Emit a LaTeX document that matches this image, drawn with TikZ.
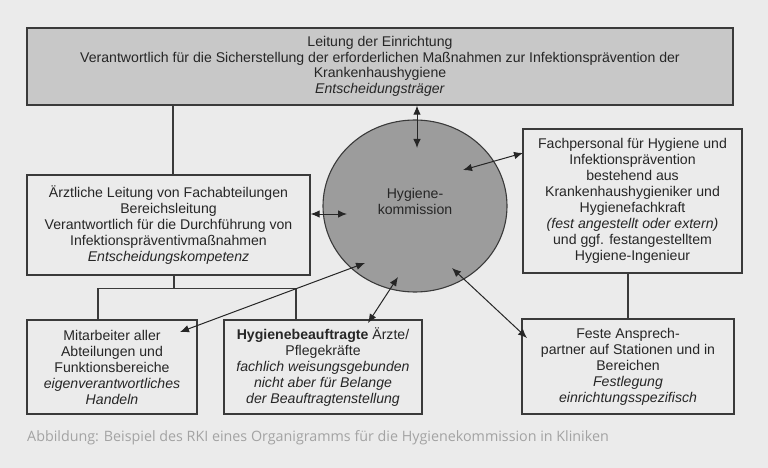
\documentclass[tikz,border=0pt]{standalone}
\usepackage{fontspec}
\setmainfont{Liberation Sans}
\newfontfamily\capfont{Open Sans}
\usetikzlibrary{shapes.geometric,arrows.meta,calc}
\definecolor{bgc}{HTML}{EBEBEB}
\definecolor{topc}{HTML}{C8C8C8}
\definecolor{circc}{HTML}{9C9C9C}
\definecolor{linec}{HTML}{3A3A3A}
\definecolor{capc}{HTML}{A3A3A3}
\begin{document}
\begin{tikzpicture}[x=1pt,y=-1pt,
  box/.style={draw=linec,line width=1.3pt,fill=bgc,align=center,inner sep=0pt,
    font=\fontsize{14.1}{16}\selectfont,text=black!85},
  topbox/.style={box,fill=topc,font=\fontsize{14.1}{15.6}\selectfont},
  conn/.style={draw=linec,line width=1.1pt},
  arr/.style={draw=black!85,line width=1pt,{Latex[length=9pt,width=7.5pt]}-{Latex[length=9pt,width=7.5pt]}}
]
\useasboundingbox[fill=bgc] (0,0) rectangle (768,468);

\node[topbox,minimum width=706pt,minimum height=77pt] (top) at (380,66.5)
  {Leitung der Einrichtung\\
   Verantwortlich für die Sicherstellung der erforderlichen Maßnahmen zur Infektionsprävention der\\
   Krankenhaushygiene\\
   \textit{Entscheidungsträger}};

\node[ellipse,draw=linec,line width=1.1pt,fill=circc,minimum width=184pt,minimum height=172pt] (hk) at (415,206) {};
\node[align=center,font=\fontsize{14.1}{16}\selectfont,text=black!85] (hkt) at (415,201) {Hygiene-\\kommission};

\node[box,minimum width=283pt,minimum height=100pt] (lead) at (168.5,225)
  {Ärztliche Leitung von Fachabteilungen\\
   Bereichsleitung\\
   Verantwortlich für die Durchführung von\\
   Infektionspräventivmaßnahmen\\
   \textit{Entscheidungskompetenz}};

\node[box,minimum width=219pt,minimum height=144pt] (fach) at (632.5,201)
  {Fachpersonal für Hygiene und\\
   Infektionsprävention\\
   bestehend aus\\
   Krankenhaushygieniker und\\
   Hygienefachkraft\\
   \textit{(fest angestellt oder extern)}\\
   und ggf. festangestelltem\\
   Hygiene-Ingenieur};

\node[box,minimum width=170pt,minimum height=94pt] (mit) at (112,367)
  {Mitarbeiter aller\\
   Abteilungen und\\
   Funktionsbereiche\\
   \textit{eigenverantwortliches}\\
   \textit{Handeln}};

\node[box,minimum width=198pt,minimum height=94pt] (hyb) at (323,367)
  {\textbf{Hygienebeauftragte} Ärzte/\\
   Pflegekräfte\\
   \textit{fachlich weisungsgebunden}\\
   \textit{nicht aber für Belange}\\
   \textit{der Beauftragtenstellung}};

\node[box,minimum width=212pt,minimum height=95pt] (feste) at (628,366.5)
  {Feste Ansprech-\\
   partner auf Stationen und in\\
   Bereichen\\
   \textit{Festlegung}\\
   \textit{einrichtungsspezifisch}};

\node[anchor=west,font=\capfont\fontsize{14.3}{16}\selectfont,text=capc,inner sep=0pt] (cap) at (27,438)
  {Abbildung: Beispiel des RKI eines Organigramms für die Hygienekommission in Kliniken};

% tree connectors
\draw[conn] ([xshift=4.5pt]lead.north) -- ([xshift=4.5pt]lead.north |- top.south);
\coordinate (fork) at ($(lead.south)+(5.5,13)$);
\draw[conn] ([xshift=5.5pt]lead.south) -- (fork);
\draw[conn] ([xshift=-14pt]mit.north) |- (fork) -| ([xshift=-27pt]hyb.north);
\draw[conn] (feste.north) -- (feste.north |- fach.south);

% arrows
\coordinate (a1) at (417,148);
\draw[arr] (top.south -| a1) -- (a1);
\coordinate (a2) at (347,214);
\draw[arr] (lead.east |- a2) -- (a2);
\coordinate (a3) at (463,170);
\coordinate (a3e) at (523,153);
\draw[arr] (a3) -- (a3e);
\coordinate (a4) at (452,268);
\coordinate (a4e) at (527,338);
\draw[arr] (a4) -- (a4e);
\coordinate (a5) at (398,277);
\coordinate (a5e) at (368,323);
\draw[arr] (a5) -- (a5e);
\coordinate (a6) at (365,263);
\coordinate (a6e) at (180,332);
\draw[arr] (a6) -- (a6e);
\end{tikzpicture}
\end{document}
